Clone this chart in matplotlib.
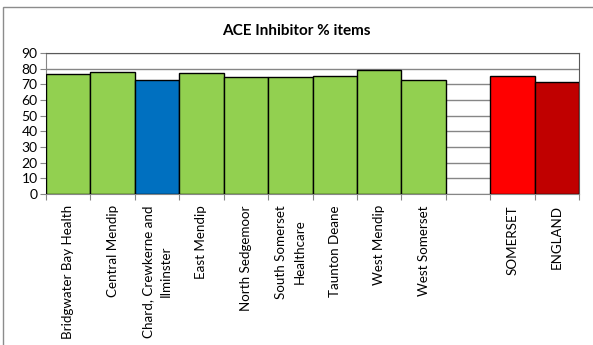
import matplotlib.pyplot as plt
from matplotlib.patches import Rectangle

# practice groups plus county and national totals (blank slot between them)
labels = ['Bridgwater Bay Health', 'Central Mendip', 'Chard, Crewkerne and\nIlminster',
          'East Mendip', 'North Sedgemoor', 'South Somerset\nHealthcare', 'Taunton Deane',
          'West Mendip', 'West Somerset', '', 'SOMERSET', 'ENGLAND']
values = [76.6, 77.7, 72.5, 77.0, 74.4, 74.9, 75.3, 78.9, 73.0, 0, 75.3, 71.7]
colors = ['#92D050', '#92D050', '#0070C0', '#92D050', '#92D050', '#92D050', '#92D050',
          '#92D050', '#92D050', 'none', '#FF0000', '#C00000']

plt.rcParams['font.family'] = ['Lato', 'DejaVu Sans']

W, H = 593, 345
fig = plt.figure(figsize=(W / 100, H / 100), dpi=100)

# outer chart frame, running off the right and bottom edges
fig.patches.append(Rectangle((3 / W, -10 / H), 600 / W, 348 / H, transform=fig.transFigure,
                             fill=False, edgecolor='#8c8c8c', linewidth=1))

ax = fig.add_axes([46 / W, (H - 194) / H, 533 / W, 141 / H])
x = list(range(len(labels)))
for i, (v, c) in enumerate(zip(values, colors)):
    if c == 'none':
        continue
    ax.bar(i, v, width=1.0, color=c, edgecolor='black', linewidth=1, zorder=3)

ax.set_xlim(-0.5, len(labels) - 0.5)
ax.set_ylim(0, 90)
ax.set_yticks(range(0, 91, 10))
ax.yaxis.grid(True, color='#868686', linewidth=1, zorder=0)
ax.set_axisbelow(True)

ax.set_xticks([i - 0.5 for i in range(len(labels) + 1)], minor=False)
ax.set_xticklabels([])
ax.set_xticks(x, minor=True)
ax.set_xticklabels(labels, minor=True, rotation=90, va='top', ha='center',
                   multialignment='center', fontsize=9.6, linespacing=1.6)
ax.tick_params(axis='x', which='minor', length=0, pad=8)
ax.tick_params(axis='x', which='major', length=4, color='#868686', direction='out')
ax.tick_params(axis='y', length=4, color='#868686', labelsize=10, pad=2)

for s in ['top', 'right']:
    ax.spines[s].set_color('#595959')
for s in ['left', 'bottom']:
    ax.spines[s].set_color('#868686')

fig.text(0.5, 1 - 31 / H, 'ACE Inhibitor % items', ha='center', va='center',
         fontsize=11, fontweight='bold')

fig.savefig('out.png', dpi=100)
